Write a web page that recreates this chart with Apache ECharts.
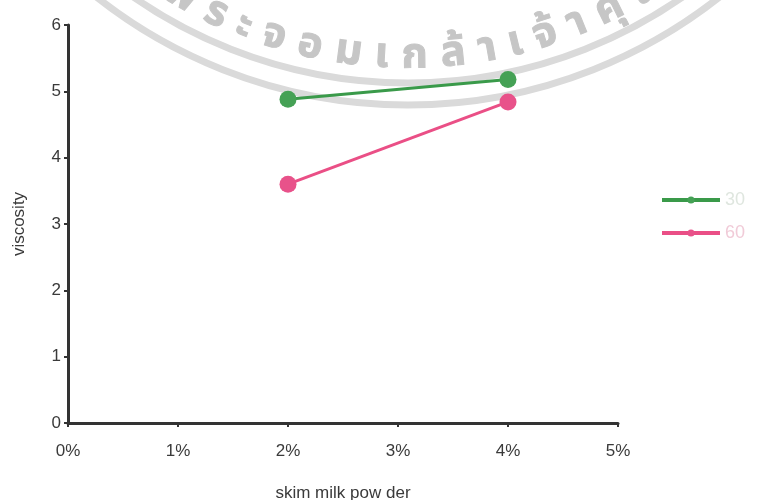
<!DOCTYPE html>
<html>
<head>
<meta charset="utf-8">
<script src="https://cdn.jsdelivr.net/npm/echarts@6/dist/echarts.min.js"></script>
<style>
  html, body { margin: 0; padding: 0; background: #ffffff; }
  #chart { width: 757px; height: 500px; }
</style>
</head>
<body>
<div id="chart"></div>
<script>
// Skim milk powder content (%) and measured viscosity
const xTicks = [0, 1, 2, 3, 4, 5];
const seriesNames = ['30', '60'];
const milkLevels = [2, 4];
const viscosityA = [4.88, 5.18];
const viscosityB = [3.60, 4.84];
const yTicks = [0, 1, 2, 3, 4, 5, 6];

// Seal watermark text (institution name), one entry per Thai grapheme cluster
const sealClusters = ['ส','ถ','า','บั','น','เ','ท','ค','โ','น','โ','ล','ยี','พ','ร','ะ','จ','อ','ม','เ','ก','ล้','า','เ','จ้','า','คุ','ณ','ท','ห','า','ร'];

const chart = echarts.init(document.getElementById('chart'), null, { renderer: 'canvas' });

// Two grey rings plus the name set along the inner arc with proportional spacing
function buildSeal() {
  const cx = 408, cy = -398;
  const items = [];
  [481, 503].forEach(function (r) {
    items.push({
      type: 'circle', z: -10, silent: true,
      shape: { cx: cx, cy: cy, r: r },
      style: { fill: 'none', stroke: '#dadada', lineWidth: 7 }
    });
  });
  const font = 'bold 42px "Noto Sans Thai", "Noto Sans", sans-serif';
  const ctx = document.createElement('canvas').getContext('2d');
  ctx.font = font;
  const widths = sealClusters.map(function (c) { return ctx.measureText(c).width + 10; });
  const centers = [];
  let acc = 0;
  widths.forEach(function (w) { centers.push(acc + w / 2); acc += w; });
  const iFirst = sealClusters.indexOf('ร');
  const iLast = sealClusters.indexOf('คุ');
  const a0 = -25.0 * Math.PI / 180, a1 = 26.3 * Math.PI / 180;
  const k = (a1 - a0) / (centers[iLast] - centers[iFirst]);
  const rText = 457;
  sealClusters.forEach(function (c, i) {
    const phi = a0 + (centers[i] - centers[iFirst]) * k;
    if (Math.abs(phi) > Math.PI / 2) return;
    items.push({
      type: 'text', z: -9, silent: true,
      x: cx + rText * Math.sin(phi),
      y: cy + rText * Math.cos(phi),
      rotation: phi,
      style: {
        text: c, font: font, fill: '#c6c6c6',
        stroke: '#c6c6c6', lineWidth: 1,
        align: 'center', verticalAlign: 'middle'
      }
    });
  });
  return items;
}

const axisColor = '#333333';
const fontFamily = 'Liberation Sans, Arial, sans-serif';
const labelFont = { color: '#3a3a3a', fontSize: 17, fontFamily: fontFamily };

chart.setOption({
  backgroundColor: '#ffffff',
  animation: false,
  graphic: buildSeal(),
  grid: { left: 68, right: 139, top: 25, bottom: 77, containLabel: false, outerBoundsMode: 'none' },
  legend: {
    orient: 'vertical',
    left: 660,
    top: 191,
    padding: 0,
    itemWidth: 58,
    itemHeight: 9,
    itemGap: 15,
    lineStyle: { width: 4 },
    data: [
      { name: seriesNames[0], textStyle: { color: '#dfe6df' } },
      { name: seriesNames[1], textStyle: { color: '#f1cbd8' } }
    ],
    textStyle: { fontSize: 18, fontFamily: fontFamily }
  },
  xAxis: {
    type: 'value',
    min: xTicks[0],
    max: xTicks[xTicks.length - 1],
    interval: 1,
    name: 'skim milk pow der',
    nameLocation: 'middle',
    nameGap: 62,
    nameTextStyle: labelFont,
    axisLine: { show: true, lineStyle: { color: axisColor, width: 3 } },
    axisTick: { show: true, length: 4, lineStyle: { color: axisColor, width: 2 } },
    axisLabel: Object.assign({ margin: 20, formatter: '{value}%' }, labelFont),
    splitLine: { show: false }
  },
  yAxis: {
    type: 'value',
    min: yTicks[0],
    max: yTicks[yTicks.length - 1],
    interval: 1,
    name: 'viscosity',
    nameLocation: 'middle',
    nameGap: 40,
    nameTextStyle: labelFont,
    axisLine: { show: true, lineStyle: { color: axisColor, width: 3 } },
    axisTick: { show: true, length: 4, lineStyle: { color: axisColor, width: 2 } },
    axisLabel: Object.assign({ margin: 7 }, labelFont),
    splitLine: { show: false }
  },
  series: [
    {
      name: seriesNames[0],
      type: 'line',
      data: milkLevels.map(function (x, i) { return [x, viscosityA[i]]; }),
      symbol: 'circle',
      symbolSize: 17,
      itemStyle: { color: '#45a155' },
      lineStyle: { color: '#3a9a4a', width: 3 }
    },
    {
      name: seriesNames[1],
      type: 'line',
      data: milkLevels.map(function (x, i) { return [x, viscosityB[i]]; }),
      symbol: 'circle',
      symbolSize: 17,
      itemStyle: { color: '#e8528a' },
      lineStyle: { color: '#ea4f86', width: 3 }
    }
  ]
});
</script>
</body>
</html>
